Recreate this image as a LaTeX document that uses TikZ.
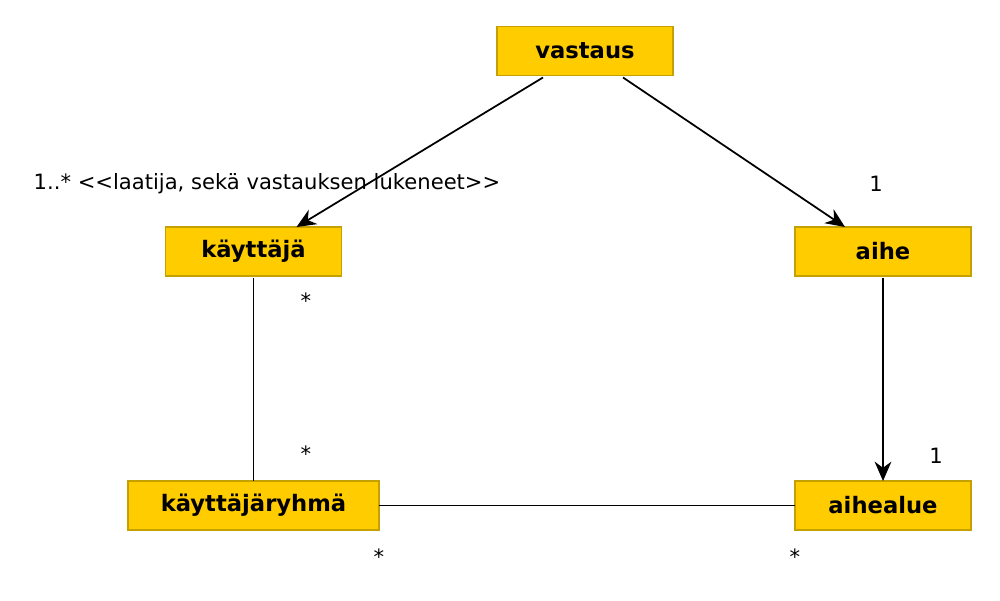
\documentclass[tikz,border=0pt]{standalone}
\usepackage{fontspec}
\setmainfont{DejaVu Sans}
\usetikzlibrary{arrows.meta,calc}
\definecolor{boxfill}{RGB}{255,204,0}
\definecolor{boxedge}{RGB}{196,160,0}
\tikzset{
  cls/.style={fill=boxfill, draw=boxedge, line width=0.7pt, inner sep=0pt, outer sep=0pt,
    minimum height=0.98cm, minimum width=3.52cm, font=\fontsize{12.9}{15}\selectfont\bfseries},
  wide/.style={minimum width=5.02cm},
  conn/.style={line width=1pt, black},
  arr/.style={conn, -{Stealth[length=11pt, width=9.5pt, inset=3.5pt]}},
  lbl/.style={font=\fontsize{12}{14}\selectfont, inner sep=0pt}
}
\begin{document}
\begin{tikzpicture}[x=0.02cm, y=-0.02cm]
\useasboundingbox (0,0) rectangle (1000,601);
\node[cls] (vastaus) at (585,51) {vastaus};
\node[cls] (kayttaja) at (253.5,251.5) {käyttäjä};
\node[cls] (aihe) at (883,251.5) {aihe};
\node[cls, wide] (ryhma) at (253.5,505.5) {käyttäjäryhmä};
\node[cls] (aihealue) at (883,505.5) {aihealue};

\draw[arr] ($(vastaus.south)+(-42,2)$) -- ($(kayttaja.north)+(43,0)$);
\draw[arr] ($(vastaus.south)+(38,2)$) -- ($(aihe.north)+(-38,0)$);
\draw[arr] ($(aihe.south)+(0,2)$) -- (aihealue.north);
\draw[conn] ($(kayttaja.south)+(0,2)$) -- (ryhma.north);
\draw[conn] (ryhma.east) -- (aihealue.west);

\node[lbl] (l1) at (267,184) {1..* {<}{<}laatija, sekä vastauksen lukeneet{>}{>}};
\node[lbl] (l2) at (876,184) {1};
\node[lbl] (l3) at (306,301) {*};
\node[lbl] (l4) at (306,454) {*};
\node[lbl] (l5) at (936,456) {1};
\node[lbl] (l6) at (379,557) {*};
\node[lbl] (l7) at (795,557) {*};
\end{tikzpicture}
\end{document}
